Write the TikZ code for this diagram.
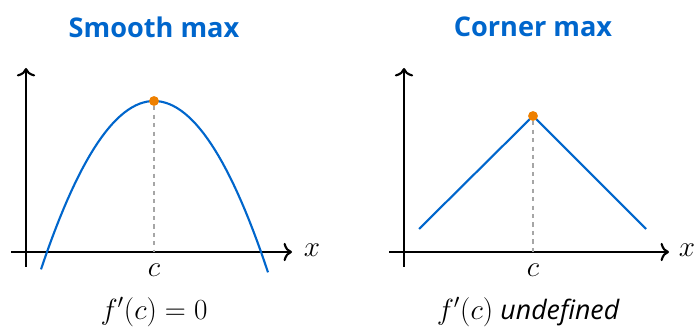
\documentclass[tikz,border=0pt]{standalone}
\usepackage[no-math]{fontspec}
\setmainfont{Open Sans}
\usetikzlibrary{arrows.meta}
\definecolor{maxblue}{HTML}{0066CC}
\definecolor{maxorange}{HTML}{EE8000}
\tikzset{
  axis/.style={-{Computer Modern Rightarrow[length=6pt, width=13pt]}, line width=1.5pt},
  curve/.style={maxblue, line width=1.5pt},
  guide/.style={dashed, gray!70, line width=0.8pt},
  peak/.style={circle, fill=maxorange, inner sep=0pt, minimum size=7pt},
  title/.style={font=\fontsize{19.3}{22}\selectfont\bfseries, text=maxblue},
  lab/.style={font=\fontsize{20}{22}\selectfont}
}
\begin{document}
\begin{tikzpicture}[x=0.025cm, y=-0.025cm]
\useasboundingbox (0,0) rectangle (696,327);
% smooth max
\node[title] (smooth) at (154,27) {Smooth max};
\coordinate (ybotA) at (26,267);
\coordinate (ytopA) at (26,68);
\coordinate (xleftA) at (11,252);
\coordinate (xrightA) at (292,252);
\draw[axis] (ybotA) -- (ytopA);
\draw[axis] (xleftA) -- (xrightA);
\node[lab] (xA) at (312,250) {$x$};
\draw[curve] plot[domain=-113:114, samples=61] ({154+\x},{101+0.01319*\x*\x});
\node[peak] (topA) at (154,101) {};
\coordinate (cA) at (154,252);
\draw[guide] (topA) -- (cA);
\node[lab] (cLabA) at (154,270) {$c$};
\node[lab] (derivA) at (154,312) {$f'(c)=0$};
% corner max
\node[title] (corner) at (533,27) {Corner max};
\coordinate (ybotB) at (404,267);
\coordinate (ytopB) at (404,68);
\coordinate (xleftB) at (389,252);
\coordinate (xrightB) at (669,252);
\draw[axis] (ybotB) -- (ytopB);
\draw[axis] (xleftB) -- (xrightB);
\node[lab] (xB) at (687,250) {$x$};
\coordinate (leftB) at (419,229);
\coordinate (rightB) at (646,229);
\draw[curve] (leftB) -- (533,116) -- (rightB);
\node[peak] (topB) at (533,116) {};
\coordinate (cB) at (533,252);
\draw[guide] (topB) -- (cB);
\node[lab] (cLabB) at (533,270) {$c$};
\node[lab] (derivB) at (528,312) {$f'(c)$ {\fontsize{19}{22}\selectfont\itshape undefined}};
\end{tikzpicture}
\end{document}
